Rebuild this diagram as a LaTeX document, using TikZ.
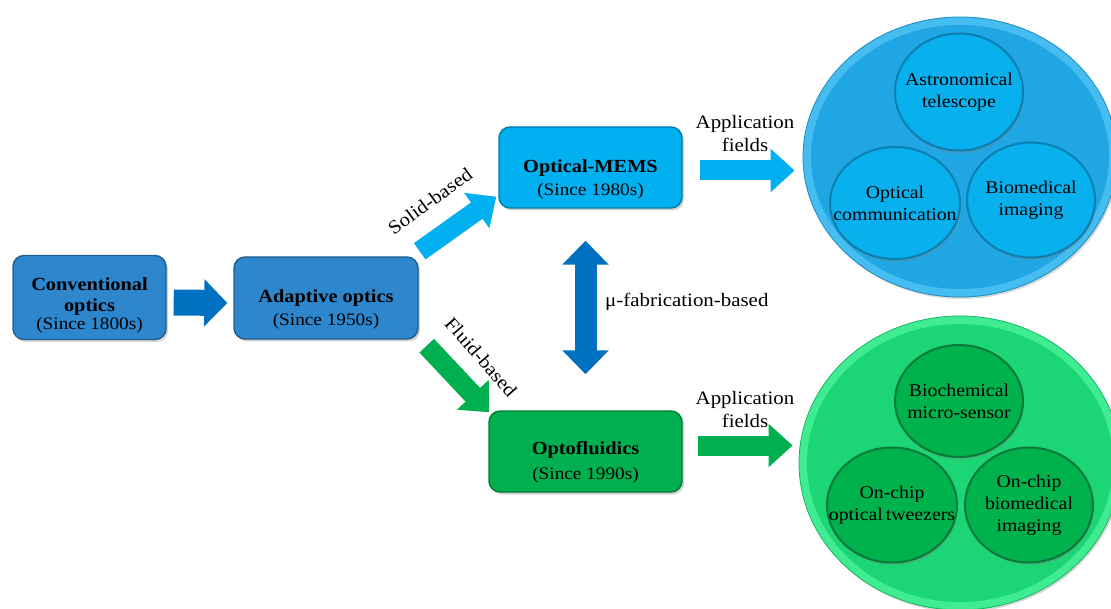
\documentclass[tikz,border=0pt]{standalone}
\usepackage{fontspec}
\setmainfont{Liberation Serif}[FakeStretch=1.1]
\usetikzlibrary{arrows.meta,shadows,shapes.geometric}
\definecolor{cblue}{HTML}{2E86CC}
\definecolor{darrow}{HTML}{0070C0}
\definecolor{ccyan}{HTML}{00B0F0}
\definecolor{ccyanD}{HTML}{0A7FB0}
\definecolor{cgreen}{HTML}{00B050}
\definecolor{cgreenD}{HTML}{0A7A3A}
\definecolor{bigblue}{HTML}{20A6E2}
\definecolor{bigblueL}{HTML}{45BDF0}
\definecolor{smallblue}{HTML}{08B0EE}
\definecolor{biggreen}{HTML}{1CD675}
\definecolor{biggreenL}{HTML}{40EC92}
\definecolor{smallgreen}{HTML}{00B24C}
\tikzset{
  stage/.style={rounded corners=11pt, draw=#1!70!black, fill=#1, line width=1.4pt, inner sep=0pt,
    drop shadow={shadow xshift=2pt, shadow yshift=-2.5pt, opacity=0.35}},
  stagetext/.style={align=center, inner sep=0pt, font=\fontsize{18.5}{22}\selectfont},
  blockarrow/.style={draw=#1, line width=26pt, -{Triangle[length=23pt,width=46pt]}},
  thinarrow/.style={draw=#1, line width=20pt, -{Triangle[length=24pt,width=42pt]}},
  plate/.style={ellipse, draw=#1!85!black, line width=0.8pt, inner sep=0pt,
    drop shadow={shadow xshift=1.5pt, shadow yshift=-2pt, opacity=0.3}},
  field/.style={ellipse, line width=2pt, inner sep=0pt,
    drop shadow={shadow xshift=1pt, shadow yshift=-2.5pt, opacity=0.35}},
  fieldtext/.style={align=center, inner sep=0pt, font=\fontsize{18}{22}\selectfont},
  lbl/.style={font=\fontsize{19}{23}\selectfont, align=center, inner sep=0pt},
}
\begin{document}
\begin{tikzpicture}[x=1pt,y=-1pt]
\useasboundingbox (0,0) rectangle (1111,609);
% stages
\node[stage=cblue, minimum width=153pt, minimum height=84pt] (conv) at (89.5,297.5) {};
\node[stage=cblue, minimum width=184pt, minimum height=82pt] (adapt) at (326,298) {};
\node[stage=ccyan, minimum width=183pt, minimum height=81pt] (mems) at (590.5,167.5) {};
\node[stage=cgreen, minimum width=193pt, minimum height=81pt] (opto) at (585.5,451.5) {};
\node[stagetext] (convT) at ([yshift=-8]conv.center)
  {\textbf{Conventional}\\[-1pt]\textbf{optics}\\[-4pt]{\fontsize{17.5}{19}\selectfont (Since 1800s)}};
\node[stagetext] (adaptT) at ([yshift=-11]adapt.center)
  {\textbf{Adaptive optics}\\[1pt]{\fontsize{17.5}{19}\selectfont (Since 1950s)}};
\node[stagetext] (memsT) at ([yshift=-12]mems.center)
  {\textbf{Optical-MEMS}\\[1pt]{\fontsize{17.5}{19}\selectfont (Since 1980s)}};
\node[stagetext] (optoT) at ([yshift=-11]opto.center)
  {\textbf{Optofluidics}\\[3pt]{\fontsize{17.5}{19}\selectfont (Since 1990s)}};
% application plates
\node[plate=bigblue, fill=bigblueL, minimum width=314pt, minimum height=280pt] (pblue) at (960,157) {};
\node[plate=biggreen, fill=biggreenL, minimum width=322pt, minimum height=294pt] (pgreen) at (960,463) {};
\fill[bigblue] (pblue.center) ellipse [x radius=149pt, y radius=132pt];
\fill[biggreen] (pgreen.center) ellipse [x radius=153pt, y radius=139pt];
% fields
\node[field, fill=smallblue, draw=ccyanD, minimum width=128pt, minimum height=117pt,
  label={[fieldtext]center:Astronomical\\telescope}] (astro) at (959,92) {};
\node[field, fill=smallblue, draw=ccyanD, minimum width=130pt, minimum height=112pt,
  label={[fieldtext]center:Optical\\communication}] (ocomm) at (895,203) {};
\node[field, fill=smallblue, draw=ccyanD, minimum width=128pt, minimum height=115pt,
  label={[fieldtext]center:Biomedical\\imaging}] (bioimg) at (1031,200) {};
\node[field, fill=smallgreen, draw=cgreenD, minimum width=128pt, minimum height=112pt,
  label={[fieldtext]center:Biochemical\\micro-sensor}] (biochem) at (959,401) {};
\node[field, fill=smallgreen, draw=cgreenD, minimum width=130pt, minimum height=115pt,
  label={[fieldtext]center:On-chip\\optical\,tweezers}] (tweez) at (892,505) {};
\node[field, fill=smallgreen, draw=cgreenD, minimum width=128pt, minimum height=115pt,
  label={[fieldtext]center:On-chip\\biomedical\\imaging}] (chipimg) at (1029,505) {};
% connectors
\draw[blockarrow=darrow] ([shift={(7,5)}]conv.east) -- ([shift={(-6,5)}]adapt.west);
\draw[thinarrow=ccyan] ([shift={(1,-5)}]adapt.north east) -- ([shift={(-2,-12)}]mems.south west);
\draw[thinarrow=cgreen] ([shift={(8,6)}]adapt.south east) -- ([shift={(1,2)}]opto.north west);
\draw[draw=darrow, line width=22pt, {Triangle[length=24pt,width=45pt]}-{Triangle[length=24pt,width=45pt]},
  shorten <=32pt, shorten >=36pt] (mems.south -| opto.north) -- (opto.north);
\draw[thinarrow=ccyan] ([shift={(17,3)}]mems.east) -- ([shift={(-8,3)}]mems.east -| pblue.west);
\draw[thinarrow=cgreen] ([shift={(15,-6)}]opto.east) -- ([shift={(-6,-6)}]opto.east -| pgreen.west);
% labels
\node[lbl] (lsolid) at (430,201) [rotate=36] {Solid-based};
\node[lbl] (lfluid) at (481,357) [rotate=-49] {Fluid-based};
\node[lbl, anchor=west] (lmu) at (605,302) {μ-fabrication-based};
\node[lbl] (lapp1) at (745,134) {Application\\fields};
\node[lbl] (lapp2) at (745,410) {Application\\fields};
\end{tikzpicture}
\end{document}
